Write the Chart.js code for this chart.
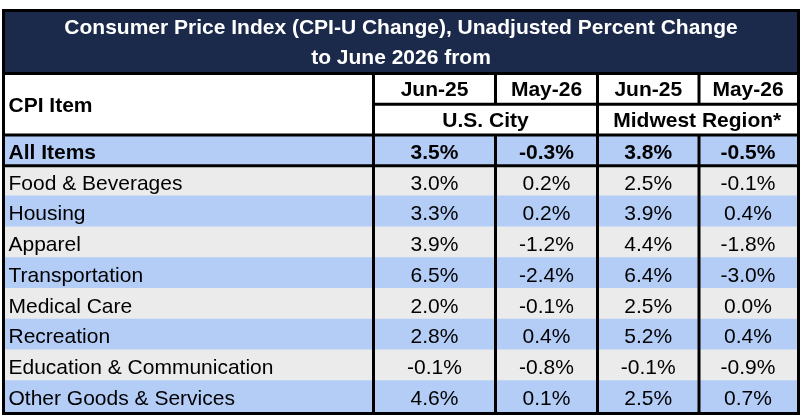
<!DOCTYPE html>
<html>
<head>
<meta charset="utf-8">
<script src="https://cdn.jsdelivr.net/npm/chart.js@4.4.1/dist/chart.umd.min.js"></script>
<style>
  body { margin: 0; background: #fff; }
  canvas { display: block; }
</style>
</head>
<body>
<canvas id="cpiTable" width="806" height="418"></canvas>
<script>
// Table data
const titleLines = ['Consumer Price Index (CPI-U Change), Unadjusted Percent Change', 'to June 2026 from'];
const headerItem = 'CPI Item';
const periodLabels = ['Jun-25', 'May-26', 'Jun-25', 'May-26'];
const regionLabels = ['U.S. City', 'Midwest Region*'];
const categories = ['All Items', 'Food & Beverages', 'Housing', 'Apparel', 'Transportation',
  'Medical Care', 'Recreation', 'Education & Communication', 'Other Goods & Services'];
const usJun25 = [3.5, 3.0, 3.3, 3.9, 6.5, 2.0, 2.8, -0.1, 4.6];
const usMay26 = [-0.3, 0.2, 0.2, -1.2, -2.4, -0.1, 0.4, -0.8, 0.1];
const mwJun25 = [3.8, 2.5, 3.9, 4.4, 6.4, 2.5, 5.2, -0.1, 2.5];
const mwMay26 = [-0.5, -0.1, 0.4, -1.8, -3.0, 0.0, 0.4, -0.9, 0.7];
const valueColumns = [usJun25, usMay26, mwJun25, mwMay26];

// Layout: column edges on the x scale, row keys on the y scale
const colEdges = [0, 368.5, 490.5, 592.5, 694, 792];
const rowKeys = ['title1', 'title2', 'head1', 'head2'].concat(categories);
const NAVY = '#1b2a4a', BLUE = '#b3cdf7', GREY = '#ebebeb';
const rowFills = rowKeys.map((k, i) => i < 2 ? NAVY : i < 4 ? '#ffffff' : ((i - 4) % 2 === 0 ? BLUE : GREY));
const FONT = 'Arial, "Liberation Sans", Helvetica, sans-serif';

// One floating bar dataset per column -> one bar per cell
const datasets = colEdges.slice(0, -1).map((start, c) => ({
  label: 'col' + c,
  data: rowKeys.map(() => [start, colEdges[c + 1]]),
  backgroundColor: rowFills,
  borderWidth: 0,
  inflateAmount: 1,
  grouped: false,
  barPercentage: 1,
  categoryPercentage: 1
}));

const tablePlugin = {
  id: 'tablePlugin',
  afterDatasetsDraw(chart) {
    const { ctx, chartArea, scales: { x, y } } = chart;
    const band = y.getPixelForValue(1) - y.getPixelForValue(0);
    const edge = i => y.getPixelForValue(0) - band / 2 + i * band;
    const mid = i => y.getPixelForValue(i);
    const cx = (a, b) => (x.getPixelForValue(colEdges[a]) + x.getPixelForValue(colEdges[b])) / 2;
    const px = c => x.getPixelForValue(colEdges[c]);

    ctx.save();
    // text
    const text = (str, tx, ty, align, bold, color) => {
      ctx.font = (bold ? 'bold ' : '') + '21px ' + FONT;
      ctx.fillStyle = color;
      ctx.textAlign = align;
      ctx.textBaseline = 'middle';
      ctx.fillText(str, tx, ty);
    };
    titleLines.forEach((t, i) => text(t, (chartArea.left + chartArea.right) / 2, mid(i) + 0.5, 'center', true, '#fff'));
    text(headerItem, chartArea.left + 3.5, edge(3) + 1.5, 'left', true, '#000');
    periodLabels.forEach((t, c) => text(t, cx(c + 1, c + 2), mid(2) + 1.5, 'center', true, '#000'));
    regionLabels.forEach((t, r) => text(t, cx(1 + r * 2, 3 + r * 2), mid(3) + 1.5, 'center', true, '#000'));
    categories.forEach((cat, r) => {
      const bold = r === 0;
      const ty = mid(r + 4) + 2.5;
      text(cat, chartArea.left + 3.5, ty, 'left', bold, '#000');
      valueColumns.forEach((vals, c) => text(vals[r].toFixed(1) + '%', cx(c + 1, c + 2), ty, 'center', bold, '#000'));
    });

    // grid lines
    ctx.strokeStyle = '#000';
    ctx.lineWidth = 3;
    const line = (x1, y1, x2, y2) => { ctx.beginPath(); ctx.moveTo(x1, y1); ctx.lineTo(x2, y2); ctx.stroke(); };
    const L = chartArea.left, R = chartArea.right, B = chartArea.bottom;
    line(L, edge(2), R, edge(2));
    line(px(1), edge(3), R, edge(3));
    line(L, edge(4), R, edge(4));
    line(L, edge(5), R, edge(5));
    line(px(1), edge(2), px(1), B);
    line(px(3), edge(2), px(3), B);
    [2, 4].forEach(c => {
      line(px(c), edge(2), px(c), edge(3));
      line(px(c), edge(4), px(c), B);
    });
    ctx.strokeRect(L - 1.5, chartArea.top - 1.5, R - L + 3, B - chartArea.top + 3);
    ctx.restore();
  }
};

new Chart(document.getElementById('cpiTable'), {
  type: 'bar',
  data: { labels: rowKeys, datasets },
  options: {
    indexAxis: 'y',
    responsive: false,
    animation: false,
    layout: { padding: { left: 5, right: 9, top: 12, bottom: 6 } },
    plugins: { legend: { display: false }, tooltip: { enabled: false } },
    scales: {
      x: { type: 'linear', min: colEdges[0], max: colEdges[colEdges.length - 1], display: false },
      y: { type: 'category', display: false }
    }
  },
  plugins: [tablePlugin]
});
</script>
</body>
</html>
